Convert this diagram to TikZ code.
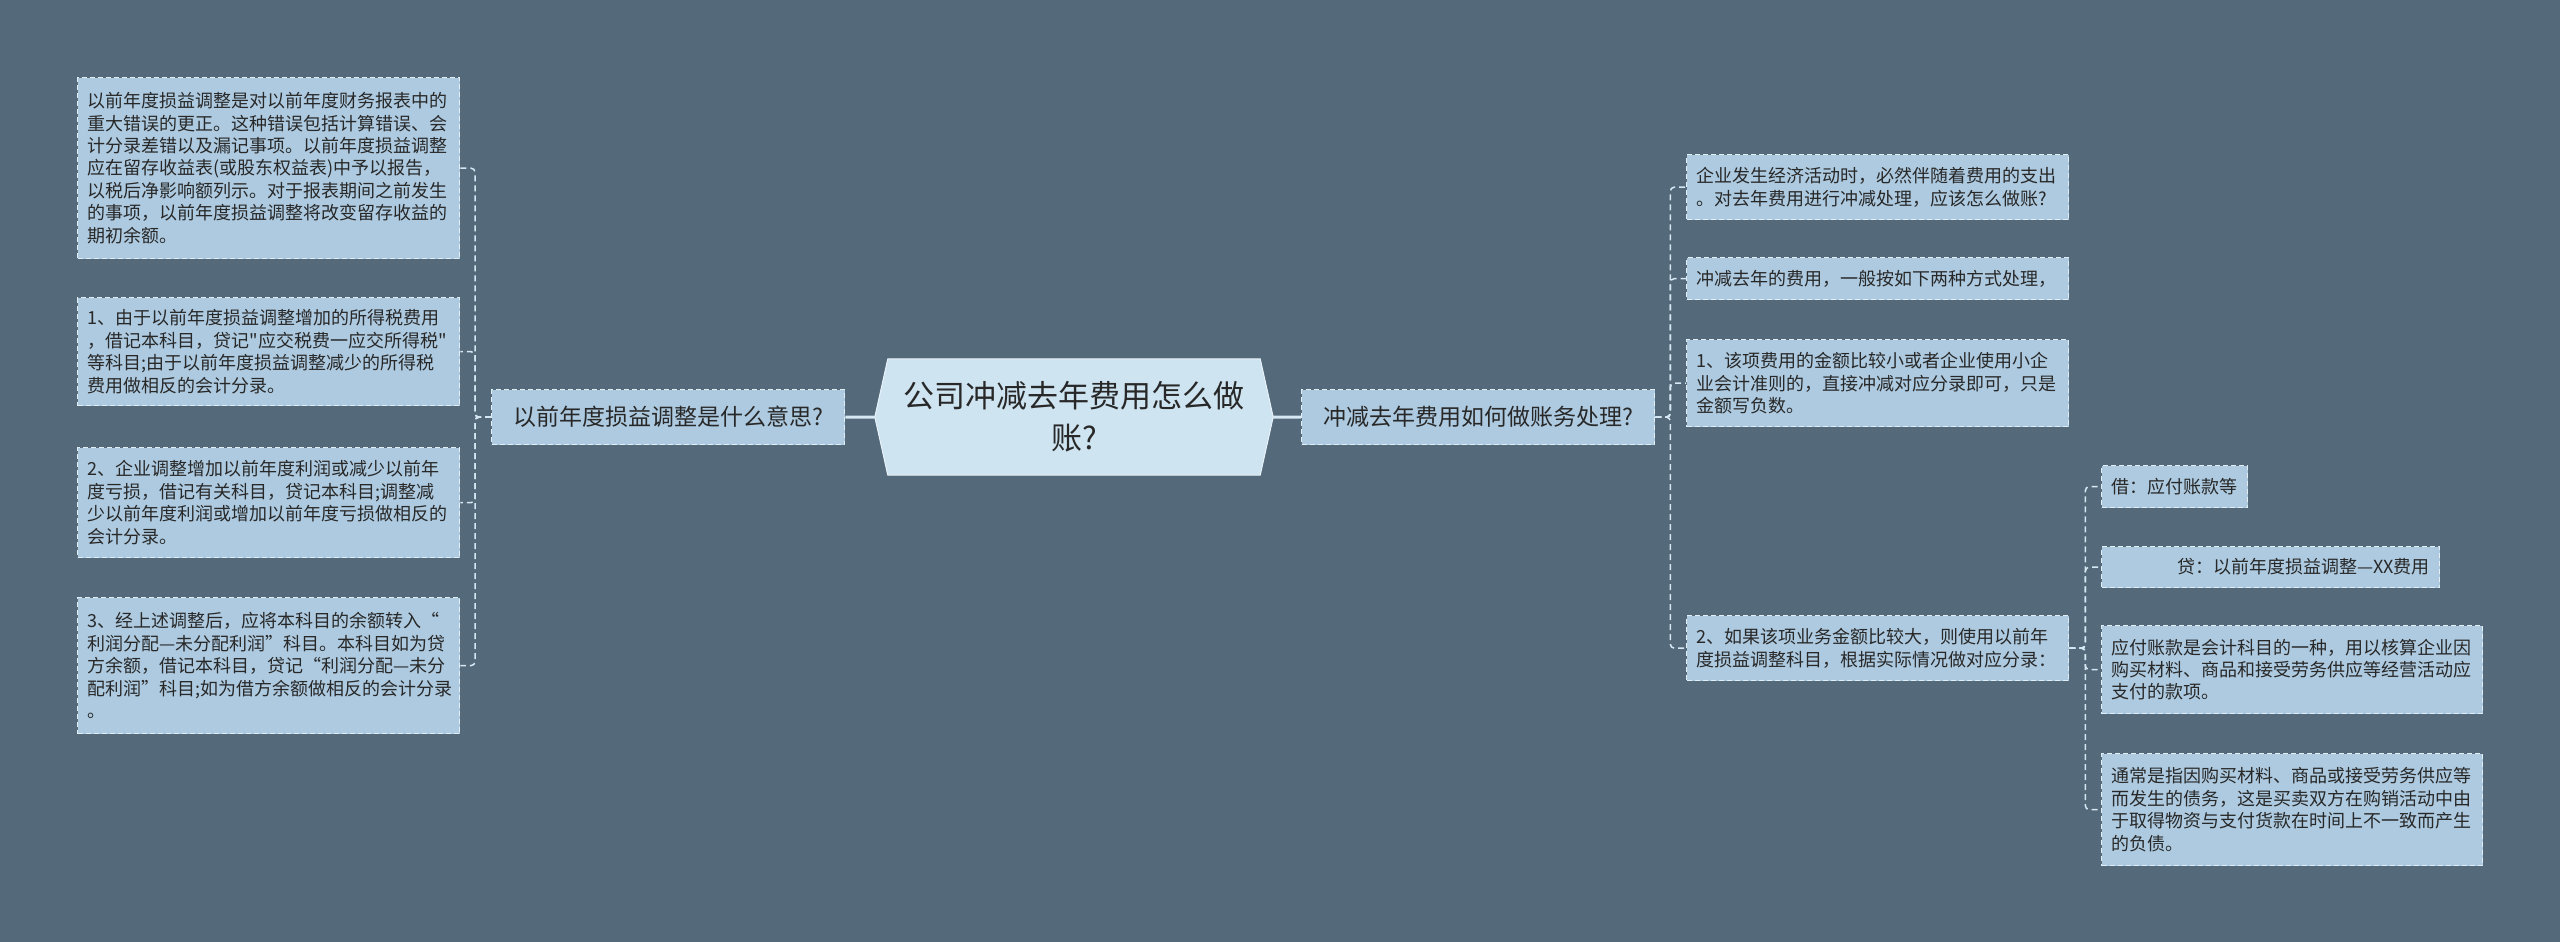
\documentclass[tikz,border=0pt]{standalone}
\usepackage{fontspec}
\setmainfont{Noto Sans CJK SC}[Ligatures=TeXOff]
\usetikzlibrary{backgrounds}
\definecolor{bgc}{RGB}{84,105,121}
\definecolor{leaffill}{RGB}{173,202,224}
\definecolor{leafline}{RGB}{226,238,246}
\definecolor{cfill}{RGB}{206,228,241}
\definecolor{cline}{RGB}{232,242,249}
\definecolor{connc}{RGB}{214,232,244}
\definecolor{txt}{RGB}{40,40,40}
\tikzset{
  leaf/.style={draw=leafline, dash pattern=on 5pt off 3pt, line width=1.3pt,
    fill=leaffill, anchor=north west, inner xsep=10pt, inner ysep=0pt,
    align=left, font=\fontsize{18}{22.4}\selectfont, text=txt},
  branch/.style={draw=leafline, dash pattern=on 5pt off 3pt, line width=1.3pt,
    fill=leaffill, anchor=north west, inner sep=0pt, minimum width=353pt,
    minimum height=55pt, align=center, font=\fontsize{23}{28}\selectfont, text=txt},
  centernode/.style={inner sep=0pt, minimum width=398pt, minimum height=116pt,
    align=center, font=\fontsize{31}{42}\selectfont, text=txt},
  conn/.style={draw=connc, line width=1.5pt, dash pattern=on 6pt off 4pt, rounded corners=4pt},
  mainconn/.style={draw=connc, line width=3pt}
}
\begin{document}
\begin{tikzpicture}[x=1pt,y=-1pt]
\begin{scope}[on background layer]
\fill[bgc] (0,0) rectangle (2560,942);
\end{scope}
\useasboundingbox (0,0) rectangle (2560,942);

% center
\node[centernode] (c) at (1074,417) {公司冲减去年费用怎么做\\账?};
\begin{scope}[on background layer]
\filldraw[fill=cfill, draw=cline, line width=1pt]
  ([xshift=13pt]c.north west) -- ([xshift=-13pt]c.north east) -- (c.east)
  -- ([xshift=-13pt]c.south east) -- ([xshift=13pt]c.south west) -- (c.west) -- cycle;
\end{scope}

% branches
\node[branch] (lb) at (491,389) {以前年度损益调整是什么意思?};
\node[branch] (rb) at (1301,389) {冲减去年费用如何做账务处理?};

% left leaves
\node[leaf, text width=362pt, minimum height=181pt] (L1) at (77,77)
  {以前年度损益调整是对以前年度财务报表中的\\重大错误的更正。这种错误包括计算错误、会\\计分录差错以及漏记事项。以前年度损益调整\\应在留存收益表(或股东权益表)中予以报告，\\以税后净影响额列示。对于报表期间之前发生\\的事项，以前年度损益调整将改变留存收益的\\期初余额。};
\node[leaf, text width=362pt, minimum height=108pt] (L2) at (77,297)
  {1、由于以前年度损益调整增加的所得税费用\\，借记本科目，贷记"应交税费一应交所得税"\\等科目;由于以前年度损益调整减少的所得税\\费用做相反的会计分录。};
\node[leaf, text width=362pt, minimum height=110pt] (L3) at (77,447)
  {2、企业调整增加以前年度利润或减少以前年\\度亏损，借记有关科目，贷记本科目;调整减\\少以前年度利润或增加以前年度亏损做相反的\\会计分录。};
\node[leaf, text width=362pt, minimum height=136pt] (L4) at (77,597)
  {3、经上述调整后，应将本科目的余额转入“\\利润分配—未分配利润”科目。本科目如为贷\\方余额，借记本科目，贷记“利润分配—未分\\配利润”科目;如为借方余额做相反的会计分录\\。};

% right leaves
\node[leaf, text width=362pt, minimum height=65pt] (R1) at (1686,154)
  {企业发生经济活动时，必然伴随着费用的支出\\。对去年费用进行冲减处理，应该怎么做账?};
\node[leaf, text width=362pt, minimum height=42pt] (R2) at (1686,257)
  {冲减去年的费用，一般按如下两种方式处理，};
\node[leaf, text width=362pt, minimum height=87pt] (R3) at (1686,339)
  {1、该项费用的金额比较小或者企业使用小企\\业会计准则的，直接冲减对应分录即可，只是\\金额写负数。};
\node[leaf, text width=362pt, minimum height=65pt] (R4) at (1686,615)
  {2、如果该项业务金额比较大，则使用以前年\\度损益调整科目，根据实际情况做对应分录：};

% sub leaves
\node[leaf, text width=126pt, minimum height=42pt] (S1) at (2101,465)
  {借：应付账款等};
\node[leaf, text width=318pt, minimum height=41pt, align=right] (S2) at (2101,546)
  {贷：以前年度损益调整—XX费用};
\node[leaf, text width=361pt, minimum height=88pt] (S3) at (2101,625)
  {应付账款是会计科目的一种，用以核算企业因\\购买材料、商品和接受劳务供应等经营活动应\\支付的款项。};
\node[leaf, text width=361pt, minimum height=112pt] (S4) at (2101,753)
  {通常是指因购买材料、商品或接受劳务供应等\\而发生的债务，这是买卖双方在购销活动中由\\于取得物资与支付货款在时间上不一致而产生\\的负债。};

% main connectors
\draw[mainconn] (lb.east) -- (c.west);
\draw[mainconn] (c.east) -- (rb.west);

% left connectors
\foreach \n in {L1,L2,L3,L4}
  \draw[conn] (lb.west) -- ++(-16,0) |- (\n.east);
% right connectors
\foreach \n in {R1,R2,R3,R4}
  \draw[conn] (rb.east) -- ++(15,0) |- (\n.west);
% sub connectors
\foreach \n in {S1,S2,S3,S4}
  \draw[conn] (R4.east) -- ++(16,0) |- (\n.west);
\end{tikzpicture}
\end{document}
